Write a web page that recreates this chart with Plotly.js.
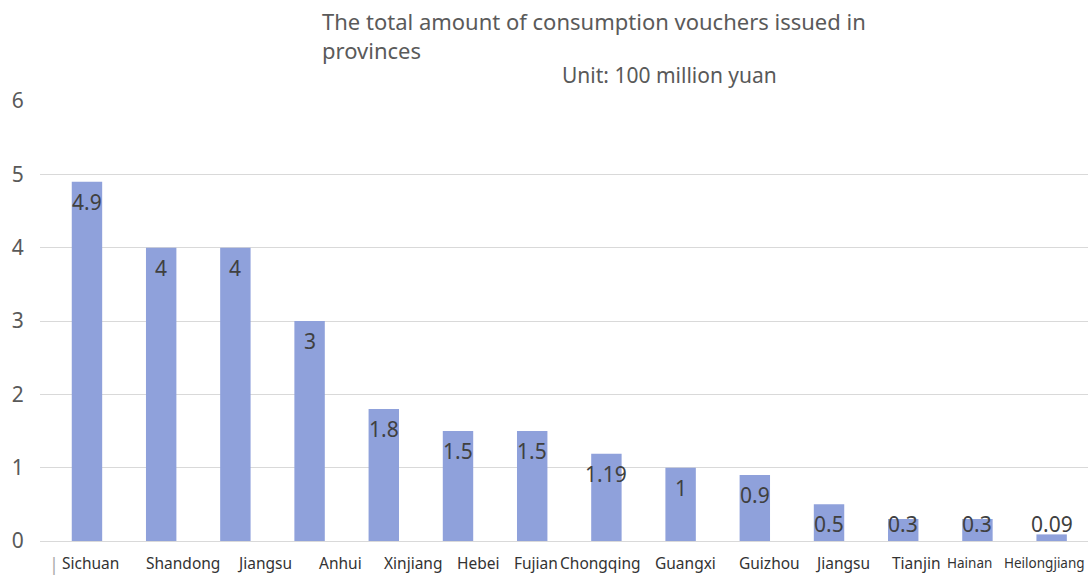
<!DOCTYPE html>
<html>
<head>
<meta charset="utf-8">
<script src="https://cdn.plot.ly/plotly-3.0.1.min.js"></script>
<style>
  html, body { margin: 0; padding: 0; background: #ffffff; }
  #chart { width: 1088px; height: 575px; }
</style>
</head>
<body>
<div id="chart"></div>
<script>
// Consumption vouchers issued by province (unit: 100 million yuan)
const provinces = ['Sichuan', 'Shandong', 'Jiangsu', 'Anhui', 'Xinjiang', 'Hebei', 'Fujian',
                   'Chongqing', 'Guangxi', 'Guizhou', 'Jiangsu', 'Tianjin', 'Hainan', 'Heilongjiang'];
const amounts = [4.9, 4, 4, 3, 1.8, 1.5, 1.5, 1.19, 1, 0.9, 0.5, 0.3, 0.3, 0.09];
const yTickValues = [0, 1, 2, 3, 4, 5, 6];

const chartTitle = 'The total amount of consumption vouchers issued in<br>provinces';
const unitNote = 'Unit: 100 million yuan';

// Layout tweaks for the category labels under the axis (pixel offsets and sizes)
const labelShift = [4, 22, 29, 31, 29, 20, 4, -6, 5, 15, 13, 13, -8, -7];
const labelSize = [15.5, 15.5, 15.5, 15.5, 15.5, 15.5, 15.5, 15.5, 15.5, 15.5, 15.5, 15.5, 13.5, 13.5];

const FONT = 'Noto Sans, Liberation Sans, Arial, sans-serif';
const BAR_COLOR = '#8fa1db';

// provinces repeat (Jiangsu twice), so bars sit on index positions
const xIdx = provinces.map((_, i) => i);

const bars = {
  type: 'bar',
  x: xIdx,
  y: amounts,
  width: 0.41,
  marker: { color: BAR_COLOR, line: { width: 0 } },
  hovertext: provinces,
  hoverinfo: 'text+y'
};

const annotations = [];

// value labels just inside the bar tops; short bars keep their label at a floor height
amounts.forEach((v, i) => {
  annotations.push({
    x: i, y: Math.max(v, 0.5), xref: 'x', yref: 'y',
    text: String(v), showarrow: false,
    yanchor: 'middle', xanchor: 'center', yshift: -20,
    font: { family: FONT, size: 21, color: '#404040' }
  });
});

// province names under the axis
provinces.forEach((name, i) => {
  annotations.push({
    x: i, y: 0, xref: 'x', yref: 'y',
    text: name, showarrow: false,
    yanchor: 'middle', xanchor: 'center', yshift: -22, xshift: labelShift[i],
    font: { family: FONT, size: labelSize[i], color: '#333333' }
  });
});

// small separator stroke at the left end of the category row
annotations.push({
  x: -0.5, y: 0, xref: 'x', yref: 'y',
  text: '|', showarrow: false,
  yanchor: 'middle', xanchor: 'center', yshift: -23, xshift: 4,
  font: { family: FONT, size: 18, color: '#aaaaaa' }
});

// unit note under the title
annotations.push({
  x: 0.496, y: 1.058, xref: 'paper', yref: 'paper',
  text: unitNote, showarrow: false,
  xanchor: 'left', yanchor: 'middle',
  font: { family: FONT, size: 21, color: '#595959' }
});

const layout = {
  width: 1088,
  height: 575,
  margin: { l: 40, r: 0, t: 101, b: 34, pad: 0 },
  paper_bgcolor: '#ffffff',
  plot_bgcolor: '#ffffff',
  showlegend: false,
  title: {
    text: chartTitle,
    xref: 'container', yref: 'container',
    x: 322 / 1088, xanchor: 'left',
    y: 1 - 30 / 575, yanchor: 'top',
    pad: { t: 0, b: 0, l: 0, r: 0 },
    font: { family: FONT, size: 22, color: '#5a5a5a' }
  },
  xaxis: {
    range: [-0.633, 13.49],
    showgrid: false,
    zeroline: false,
    showline: false,
    showticklabels: false,
    ticks: '',
    fixedrange: true
  },
  yaxis: {
    range: [0, 6],
    tickvals: yTickValues,
    ticktext: yTickValues.map(String),
    showgrid: true,
    gridcolor: '#d9d9d9',
    gridwidth: 1,
    zeroline: true,
    zerolinecolor: '#d9d9d9',
    zerolinewidth: 1,
    showline: false,
    ticks: 'outside',
    ticklen: 11,
    tickcolor: 'rgba(0,0,0,0)',
    tickfont: { family: FONT, size: 21, color: '#595959' },
    fixedrange: true
  },
  annotations: annotations
};

Plotly.newPlot('chart', [bars], layout, { displayModeBar: false, staticPlot: true });
</script>
</body>
</html>
